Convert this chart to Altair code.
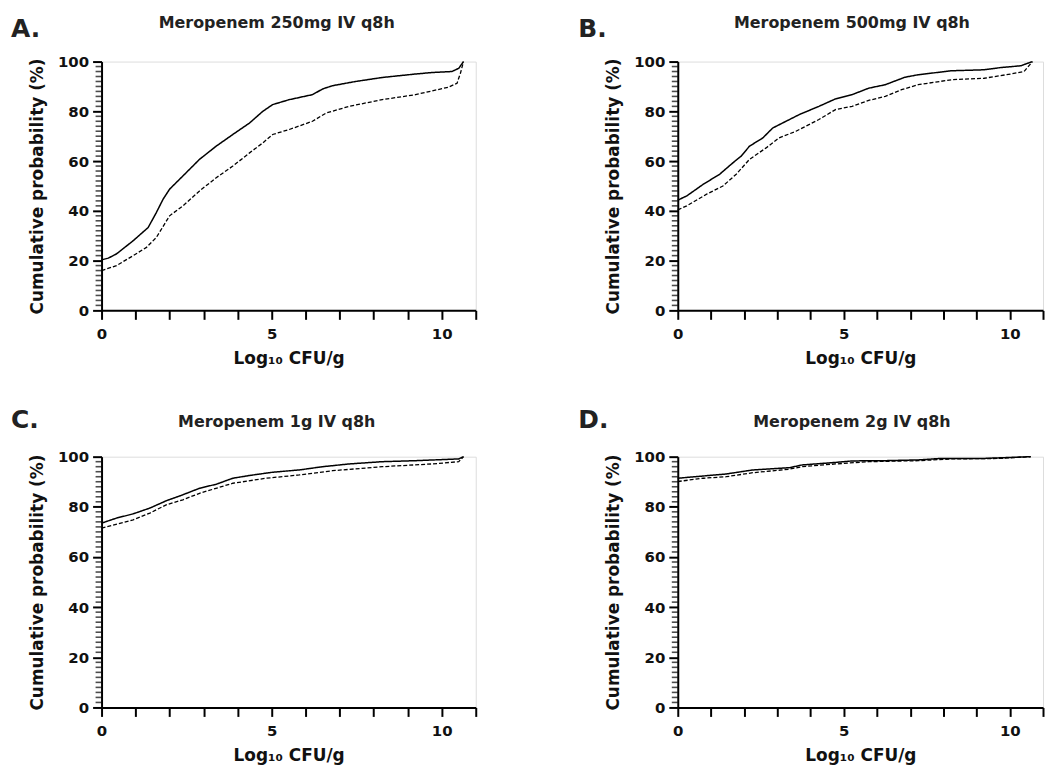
import altair as alt
import pandas as pd

FONT = "DejaVu Sans"

titles = ["Meropenem 250mg IV q8h", "Meropenem 500mg IV q8h",
          "Meropenem 1g IV q8h", "Meropenem 2g IV q8h"]
letters = ["A.", "B.", "C.", "D."]

a_solid_x = [0, 0.2, 0.44, 0.93, 1.37, 1.61, 1.81, 2.0, 2.39, 2.88, 3.37, 3.86, 4.35, 4.74, 5.03, 5.52, 6.2, 6.5, 6.79, 7.47, 8.25, 8.74, 9.23, 9.72, 10.3, 10.5, 10.64]
a_solid_y = [20.3, 21, 22.7, 28, 33.3, 39.3, 44.7, 48.7, 54, 60.7, 66, 70.7, 75.3, 80, 82.7, 84.7, 86.7, 89, 90.3, 92, 93.6, 94.3, 95, 95.6, 96, 97.3, 100]
a_dash_x = [0, 0.44, 0.93, 1.32, 1.61, 2.0, 2.39, 2.88, 3.37, 3.86, 4.35, 4.74, 5.03, 5.52, 6.2, 6.6, 7.28, 8.25, 9.23, 10.2, 10.45, 10.55, 10.64]
a_dash_y = [16, 18, 22, 25.3, 29.3, 38, 42, 48, 53.3, 58, 63.3, 67.3, 70.7, 72.7, 76, 79.3, 82, 84.7, 86.7, 89.7, 91.3, 95.3, 100]

b_solid_x = [0, 0.27, 0.77, 1.26, 1.66, 1.91, 2.16, 2.56, 2.86, 3.26, 3.66, 4.25, 4.75, 5.25, 5.75, 6.25, 6.84, 7.24, 8.24, 9.23, 9.73, 10.33, 10.68]
b_solid_y = [44.3, 46, 50.7, 54.7, 59.3, 62, 66, 69.3, 73.3, 76, 78.7, 82, 85, 86.7, 89.3, 90.7, 93.7, 94.7, 96.3, 96.7, 97.6, 98.3, 100]
b_dash_x = [0, 0.27, 0.87, 1.36, 1.76, 2.16, 2.66, 3.05, 3.56, 4.25, 4.75, 5.25, 5.75, 6.25, 6.74, 7.24, 8.24, 9.23, 10.03, 10.43, 10.68]
b_dash_y = [40.4, 42, 46.7, 50, 54.7, 60.7, 65.3, 69.3, 72, 76.7, 80.7, 82, 84.4, 86, 88.7, 90.7, 92.7, 93.3, 95, 96, 100]

c_solid_x = [0, 0.44, 0.93, 1.42, 1.9, 2.39, 2.88, 3.37, 3.86, 4.35, 5.03, 5.81, 6.5, 7.28, 8.25, 9.23, 10.5, 10.64]
c_solid_y = [73.5, 75.5, 77.2, 79.5, 82.4, 84.8, 87.4, 89, 91.4, 92.5, 93.8, 94.7, 96, 97.1, 98, 98.4, 99.1, 100]
c_dash_x = [0, 0.93, 1.42, 1.9, 2.39, 2.88, 3.86, 4.84, 5.81, 6.79, 8.25, 9.72, 10.5, 10.64]
c_dash_y = [71.5, 74.8, 77.5, 80.8, 82.8, 85.4, 89.4, 91.4, 92.7, 94.4, 96, 97.1, 98, 100]

d_solid_x = [0, 0.77, 1.46, 2.26, 3.36, 3.75, 4.75, 5.25, 6.25, 7.24, 7.94, 9.23, 10.63]
d_solid_y = [91.4, 92.3, 93.1, 94.7, 95.6, 96.7, 97.7, 98.3, 98.4, 98.7, 99.3, 99.3, 100]
d_dash_x = [0, 0.77, 1.46, 2.26, 3.36, 3.75, 4.75, 5.75, 7.24, 8.24, 9.73, 10.63]
d_dash_y = [90.1, 91.4, 92, 93.6, 95, 96, 97.1, 98, 98.4, 99.1, 99.3, 100]

x_ticks = list(range(0, 12))
y_major = list(range(0, 101, 20))
y_minor = [v for v in range(0, 101, 2) if v % 20 != 0]

series_data = [
    (a_solid_x, a_solid_y, a_dash_x, a_dash_y),
    (b_solid_x, b_solid_y, b_dash_x, b_dash_y),
    (c_solid_x, c_solid_y, c_dash_x, c_dash_y),
    (d_solid_x, d_solid_y, d_dash_x, d_dash_y),
]


def panel_df(sx, sy, dx, dy):
    rows = []
    for i, (x, y) in enumerate(zip(sx, sy)):
        rows.append({"x": x, "y": y, "series": "solid", "order": i})
    for i, (x, y) in enumerate(zip(dx, dy)):
        rows.append({"x": x, "y": y, "series": "dashed", "order": i})
    return pd.DataFrame(rows)


# width, height, letter x, letter baseline y, heading centre x, heading baseline y
layout = [
    (376, 250, -91, -25, 176, -34),
    (367, 250, -100, -25, 175, -34),
    (376, 252, -91, -29, 176, -30),
    (367, 252, -100, -29, 175, -30),
]

xaxis = alt.Axis(
    values=x_ticks,
    labelExpr="datum.value % 5 === 0 ? datum.label : ''",
    title="Log₁₀ CFU/g",
    titleFont=FONT, titleFontSize=17, titleFontWeight="bold", titleColor="#111",
    titlePadding=9,
    labelFont=FONT, labelFontSize=15, labelFontWeight="bold", labelColor="#111",
    labelPadding=7, labelFlush=False,
    tickSize=9, tickWidth=2, tickColor="black",
    domainColor="black", domainWidth=2, grid=False,
)
yaxis = alt.Axis(
    values=y_major,
    title="Cumulative probability (%)",
    titleFont=FONT, titleFontSize=17, titleFontWeight="bold", titleColor="#111",
    titlePadding=11,
    labelFont=FONT, labelFontSize=15, labelFontWeight="bold", labelColor="#111",
    labelPadding=4, labelFlush=False,
    tickSize=9, tickWidth=2, tickColor="black",
    domainColor="black", domainWidth=2, grid=False,
)
x_scale = alt.Scale(domain=[0, 11], nice=False, zero=False)
y_scale = alt.Scale(domain=[0, 100], nice=False)


def make_panel(i):
    sx, sy, dx, dy = series_data[i]
    w, h, lx, ly, hx, hy = layout[i]
    df = panel_df(sx, sy, dx, dy)
    lines = alt.Chart(df).mark_line(color="black", clip=False).encode(
        x=alt.X("x:Q", scale=x_scale, axis=xaxis),
        y=alt.Y("y:Q", scale=y_scale, axis=yaxis),
        strokeDash=alt.StrokeDash("series:N", scale=alt.Scale(domain=["solid", "dashed"], range=[[1, 0], [4, 2]]), legend=None),
        strokeWidth=alt.StrokeWidth("series:N", scale=alt.Scale(domain=["solid", "dashed"], range=[1.5, 1.3]), legend=None),
        order="order:Q",
    )
    # minor ticks every 2 % on the y axis
    minor = alt.Chart(pd.DataFrame({"y": y_minor})).mark_tick(
        color="black", orient="horizontal", size=6, thickness=1.6
    ).encode(y=alt.Y("y:Q", scale=y_scale, axis=yaxis), x=alt.value(-3))
    letter = alt.Chart(pd.DataFrame({"label": [letters[i]]})).mark_text(
        font=FONT, fontSize=25, fontWeight="bold", color="#222", align="left", baseline="alphabetic"
    ).encode(text="label:N", x=alt.value(lx), y=alt.value(ly))
    heading = alt.Chart(pd.DataFrame({"label": [titles[i]]})).mark_text(
        font=FONT, fontSize=16, fontWeight="bold", color="#222", align="center", baseline="alphabetic"
    ).encode(text="label:N", x=alt.value(hx), y=alt.value(hy))
    return alt.layer(lines, minor, letter, heading).properties(width=w, height=h)


top = alt.hconcat(make_panel(0), make_panel(1), spacing=100)
bottom = alt.hconcat(make_panel(2), make_panel(3), spacing=100)
chart = alt.vconcat(top, bottom, spacing=40).properties(
    padding={"left": 2, "top": 4, "right": 0, "bottom": 0}
).configure_view(stroke=None).configure(background="white")

chart.save("out.html", embed_options={"renderer": "svg", "actions": False})
